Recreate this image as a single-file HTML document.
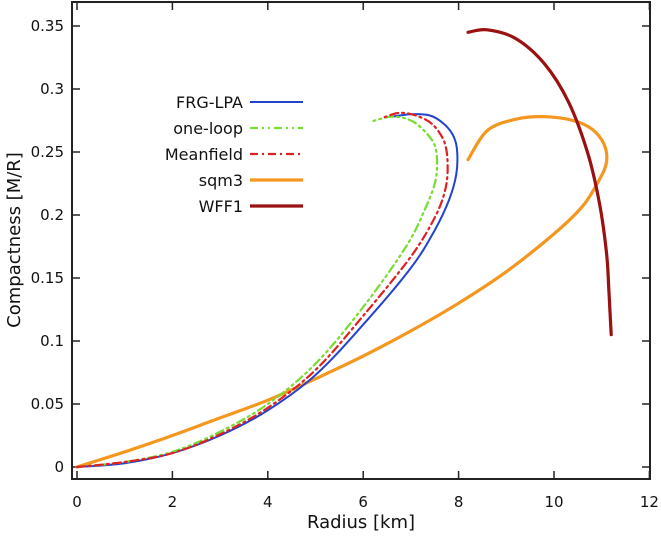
<!DOCTYPE html>
<html><head><meta charset="utf-8"><style>
body{margin:0;background:#fff;}
svg{display:block;font-family:"DejaVu Sans","Liberation Sans",sans-serif;}
</style></head><body>
<svg id="chart" width="661" height="536">
<g id="axes"></g><g id="series"></g><g id="legend"></g>
</svg>
<script>
const xTicks=[0,2,4,6,8,10,12];
const yTicks=[0,0.05,0.1,0.15,0.2,0.25,0.3,0.35];
const yTickLabels=["0","0.05","0.1","0.15","0.2","0.25","0.3","0.35"];
const seriesNames=["FRG-LPA","one-loop","Meanfield","sqm3","WFF1"];
const frgR=[0,1,2,3,4,5,6,7,7.5,7.8,7.95,7.97,7.9,7.7,7.4,7.0,6.6];
const frgC=[0,0.003,0.011,0.025,0.045,0.073,0.113,0.158,0.188,0.212,0.232,0.25,0.262,0.272,0.279,0.28,0.278];
const oneR=[0,1,2,3,4,5,6,6.9,7.3,7.5,7.55,7.5,7.3,7.0,6.6,6.15];
const oneC=[0,0.004,0.012,0.028,0.05,0.082,0.127,0.175,0.205,0.225,0.24,0.255,0.266,0.275,0.278,0.274];
const mfR=[0,1,2,3,4,5,6,7,7.5,7.72,7.77,7.7,7.45,7.1,6.75,6.4];
const mfC=[0,0.004,0.011,0.026,0.047,0.077,0.12,0.167,0.198,0.22,0.24,0.258,0.272,0.279,0.281,0.277];
const sqmR=[0,1,2,3,4,5,6,7,8,9,10,10.6,10.95,11.1,11.05,10.8,10.4,9.8,9.2,8.6,8.2];
const sqmC=[0,0.012,0.025,0.039,0.053,0.07,0.088,0.108,0.13,0.155,0.185,0.207,0.228,0.242,0.256,0.268,0.275,0.278,0.276,0.267,0.244];
const wffR=[8.2,8.6,9.2,9.8,10.3,10.7,10.95,11.1,11.15,11.2];
const wffC=[0.345,0.347,0.34,0.32,0.29,0.25,0.21,0.17,0.14,0.105];
const X=v=>77+v*47.7, Y=v=>467-v*1260;
const NS="http://www.w3.org/2000/svg";
function mk(tag,attrs,parent,text){const e=document.createElementNS(NS,tag);for(const k in attrs)e.setAttribute(k,attrs[k]);if(text!==undefined)e.textContent=text;parent.appendChild(e);return e;}
function smooth(pts){
  let d='M'+pts[0][0].toFixed(1)+','+pts[0][1].toFixed(1);
  for(let i=0;i<pts.length-1;i++){
    const p0=pts[Math.max(0,i-1)],p1=pts[i],p2=pts[i+1],p3=pts[Math.min(pts.length-1,i+2)];
    const c1=[p1[0]+(p2[0]-p0[0])/6,p1[1]+(p2[1]-p0[1])/6];
    const c2=[p2[0]-(p3[0]-p1[0])/6,p2[1]-(p3[1]-p1[1])/6];
    d+=' C'+c1[0].toFixed(1)+','+c1[1].toFixed(1)+' '+c2[0].toFixed(1)+','+c2[1].toFixed(1)+' '+p2[0].toFixed(1)+','+p2[1].toFixed(1);
  }
  return d;
}
const ax=document.getElementById('axes');
const frame=mk('rect',{x:72,y:2,width:578,height:477,fill:'none',stroke:'#222','stroke-width':2},ax);


xTicks.forEach(t=>{
  mk('line',{x1:X(t),x2:X(t),y1:479,y2:471,stroke:'#222','stroke-width':1.5},ax);
  mk('line',{x1:X(t),x2:X(t),y1:2,y2:10,stroke:'#222','stroke-width':1.5},ax);
  const l=mk('text',{x:X(t),y:507,'text-anchor':'middle','font-size':15,fill:'#111'},ax,String(t));
  
  
});
yTicks.forEach((t,i)=>{
  mk('line',{x1:72,x2:80,y1:Y(t),y2:Y(t),stroke:'#222','stroke-width':1.5},ax);
  mk('line',{x1:650,x2:642,y1:Y(t),y2:Y(t),stroke:'#222','stroke-width':1.5},ax);
  const l=mk('text',{x:64,y:Y(t)+5,'text-anchor':'end','font-size':15,fill:'#111'},ax,yTickLabels[i]);
  
  
});
const xt=mk('text',{x:361,y:528,'text-anchor':'middle','font-size':18,fill:'#111'},ax,'Radius [km]');


const yt=mk('text',{x:0,y:0,'text-anchor':'middle','font-size':18,fill:'#111',transform:'translate(20,240) rotate(-90)'},ax,'Compactness [M/R]');


const styles=[
 {c:'#2244cc',w:2,d:''},
 {c:'#77dd33',w:2.2,d:'8,4,2,4,2,4'},
 {c:'#dd2222',w:2.2,d:'8,4,2,4'},
 {c:'#f5961e',w:3.2,d:''},
 {c:'#991111',w:3.2,d:''}];
const data=[[frgR,frgC],[oneR,oneC],[mfR,mfC],[sqmR,sqmC],[wffR,wffC]];
const sg=document.getElementById('series');
const order=[3,4,0,1,2];
order.forEach(i=>{
  const [rs,cs]=data[i];
  const pts=rs.map((r,k)=>[X(r),Y(cs[k])]);
  const p=mk('path',{d:smooth(pts),fill:'none',stroke:styles[i].c,'stroke-width':styles[i].w,'stroke-dasharray':styles[i].d,'stroke-linejoin':'round','stroke-linecap':'round'},sg);
  
  
});
const lg=document.getElementById('legend');
seriesNames.forEach((n,i)=>{
  const y=102+i*26;
  const t=mk('text',{x:243,y:y+6,'text-anchor':'end','font-size':16,fill:'#111'},lg,n);
  
  
  mk('line',{x1:250,x2:303,y1:y,y2:y,stroke:styles[i].c,'stroke-width':styles[i].w,'stroke-dasharray':styles[i].d},lg);
});
</script>
</body></html>
